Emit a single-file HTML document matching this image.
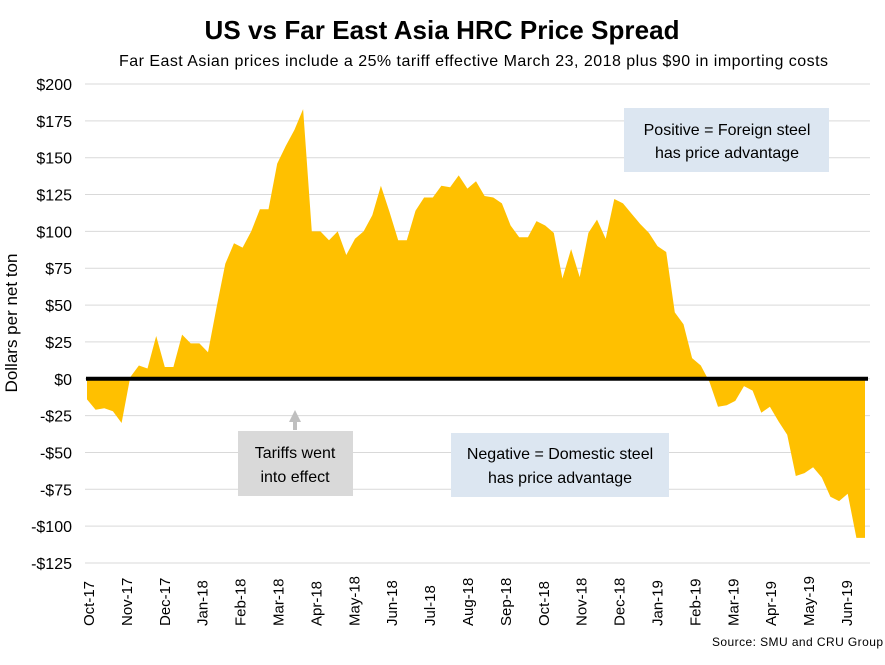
<!DOCTYPE html>
<html><head><meta charset="utf-8"><style>
body{margin:0;background:#fff;}
svg text{font-family:"Liberation Sans",Calibri,sans-serif;}
</style></head><body>
<svg id="chart" width="885" height="660" xmlns="http://www.w3.org/2000/svg">
<text x="442" y="39" text-anchor="middle" font-size="26" font-weight="bold" fill="#000" textLength="475">US vs Far East Asia HRC Price Spread</text>
<text x="119" y="66" font-size="16" fill="#000" textLength="709">Far East Asian prices include a 25% tariff effective March 23, 2018 plus $90 in importing costs</text>
<text transform="translate(17,323) rotate(-90)" text-anchor="middle" font-size="17" fill="#000">Dollars per net ton</text>
<g id="grid"></g>
<path id="area" fill="#ffc000"/>
<line id="zero" stroke="#000" stroke-width="4"/>
<g id="ylabels"></g>
<g id="xlabels"></g>
<rect x="624" y="108" width="205" height="64" fill="#dce6f1"/>
<text x="727" y="135" text-anchor="middle" font-size="16">Positive = Foreign steel</text>
<text x="727" y="158" text-anchor="middle" font-size="16">has price advantage</text>
<rect x="238" y="431" width="115" height="65" fill="#d9d9d9"/>
<text x="295" y="458" text-anchor="middle" font-size="16">Tariffs went</text>
<text x="295" y="482" text-anchor="middle" font-size="16">into effect</text>
<polygon points="295,410 289,422 293,422 293,430 297,430 297,422 301,422" fill="#bfbfbf"/>
<rect x="451" y="433" width="218" height="64" fill="#dce6f1"/>
<text x="560" y="459" text-anchor="middle" font-size="16">Negative = Domestic steel</text>
<text x="560" y="483" text-anchor="middle" font-size="16">has price advantage</text>
<text x="883" y="646" text-anchor="end" font-size="12" textLength="171">Source: SMU and CRU Group</text>
</svg>
<script>
const values=[-14,-21,-20,-22,-30,1,9,7,29,8,8,30,24,24,18,49,78,92,89,100,115,115,146,158,169,183,100,100,94,100,84,95,100,111,131,113,94,94,114,123,123,131,130,138,129,134,124,123,119,104,96,96,107,104,99,68,88,69,99,108,95,122,119,112,105,99,90,86,45,37,14,9,-2,-19,-18,-15,-5,-8,-23,-19,-29,-38,-66,-64,-60,-67,-80,-83,-78,-108,-108];
const months=["Oct-17","Nov-17","Dec-17","Jan-18","Feb-18","Mar-18","Apr-18","May-18","Jun-18","Jul-18","Aug-18","Sep-18","Oct-18","Nov-18","Dec-18","Jan-19","Feb-19","Mar-19","Apr-19","May-19","Jun-19"];
const yTicks=[200,175,150,125,100,75,50,25,0,-25,-50,-75,-100,-125];
const NS="http://www.w3.org/2000/svg";
const x0=87,x1=865,yTop=84,yBot=563,vMax=200,vMin=-125;
const y=v=>yTop+(vMax-v)/(vMax-vMin)*(yBot-yTop);
const x=i=>x0+i*(x1-x0)/(values.length-1);
const mx=i=>88+i*37.9;
function mk(tag,attrs,parent){const e=document.createElementNS(NS,tag);for(const k in attrs)e.setAttribute(k,attrs[k]);parent.appendChild(e);return e;}
const grid=document.getElementById('grid'),yl=document.getElementById('ylabels'),xl=document.getElementById('xlabels');
yTicks.forEach(v=>{
 const g=mk('line',{x1:85,x2:870,y1:y(v),y2:y(v),stroke:'#d9d9d9','stroke-width':1},grid);
 
 
 const t=mk('text',{x:72,y:y(v)+6,'text-anchor':'end','font-size':16},yl);
 t.textContent=(v<0?'-$':'$')+Math.abs(v);
 
 
});
months.forEach((m,i)=>{
 const t=mk('text',{transform:`translate(${mx(i)+6},626) rotate(-90)`,'font-size':15},xl);
 t.textContent=m;
 
 
});
let d=`M${x(0)},${y(0)}`;
values.forEach((v,i)=>{d+=` L${x(i).toFixed(1)},${y(v).toFixed(1)}`;});
d+=` L${x(values.length-1)},${y(0)} Z`;
document.getElementById('area').setAttribute('d',d);
const z=document.getElementById('zero');
z.setAttribute('x1',86);z.setAttribute('x2',868);z.setAttribute('y1',y(0));z.setAttribute('y2',y(0));
</script>
</body></html>
